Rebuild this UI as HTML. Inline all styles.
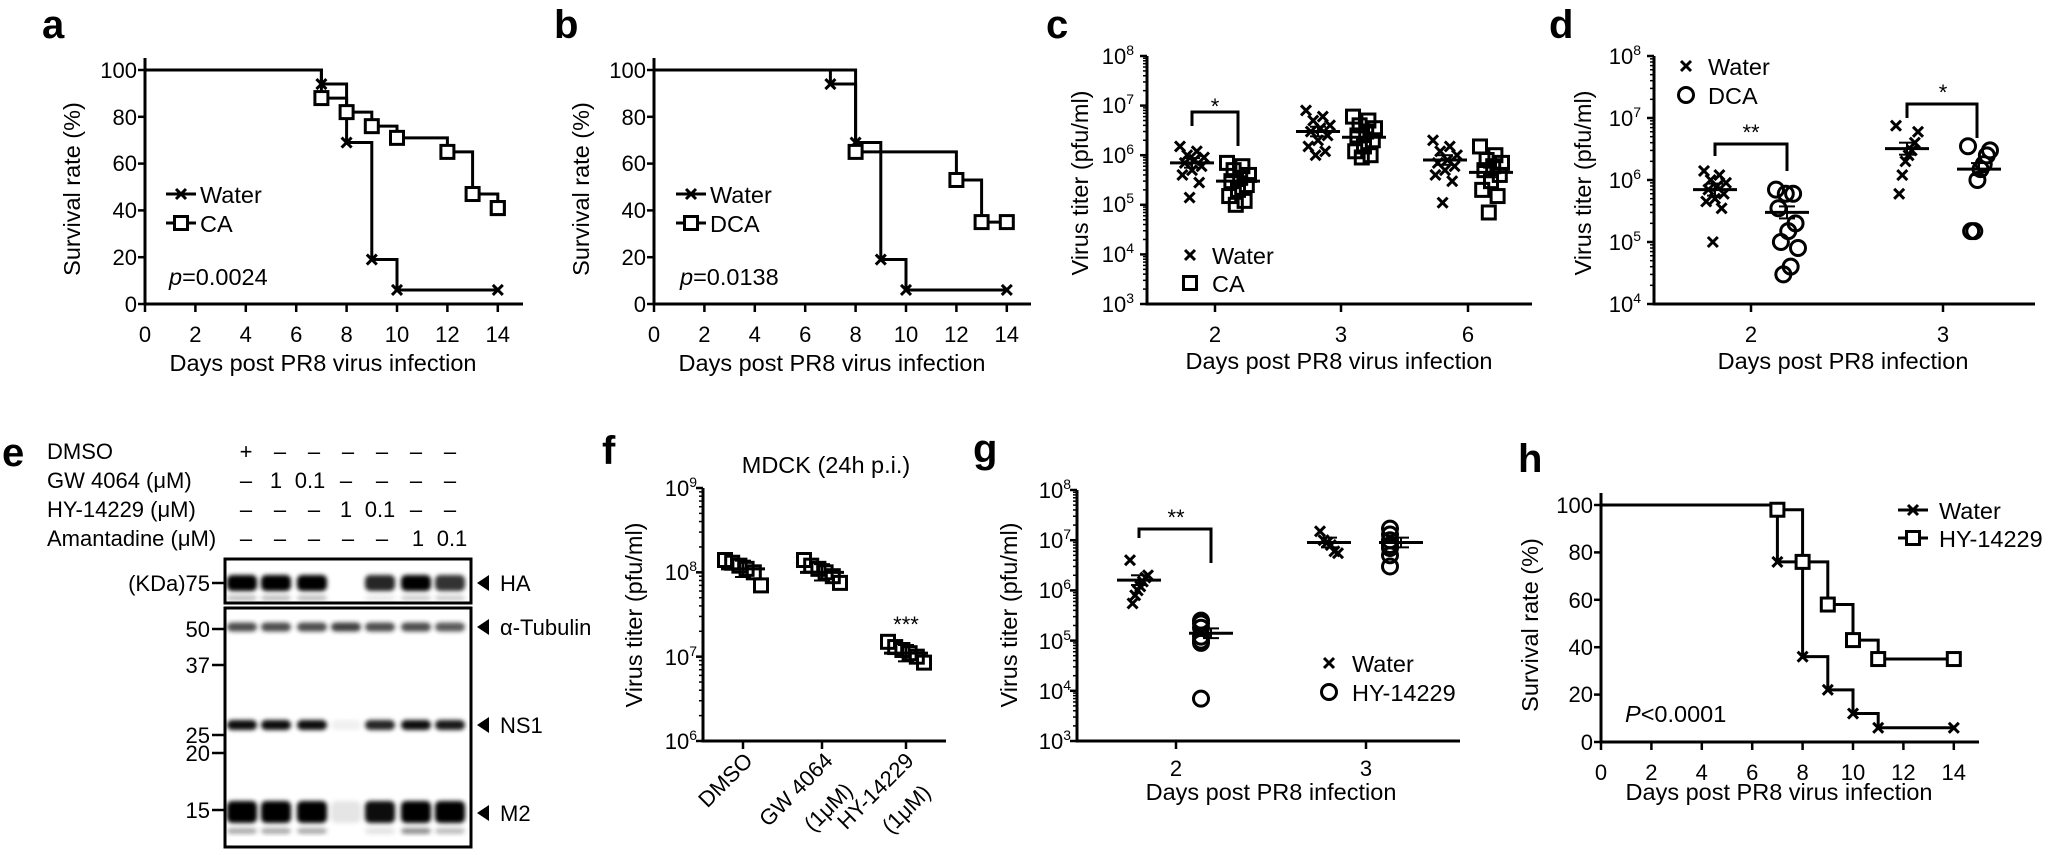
<!DOCTYPE html>
<html><head><meta charset="utf-8"><style>
html,body{margin:0;padding:0;background:#fff}
svg{display:block}
text{font-family:"Liberation Sans",Arial,sans-serif;fill:#000}
.b{font-weight:bold;font-size:40px}
.t{font-size:22px}
.l{font-size:23.5px}
.s{font-size:14px}
</style></head><body>
<svg id="s" width="2050" height="853" viewBox="0 0 2050 853" xmlns="http://www.w3.org/2000/svg">
<defs><filter id="bl" x="-20%" y="-50%" width="140%" height="200%"><feGaussianBlur stdDeviation="2"/></filter></defs>
<g id="shapes" stroke="#000" stroke-width="3" fill="none"></g>
<text class="b" x="42" y="38">a</text>
<text class="b" x="554" y="38">b</text>
<text class="b" x="1046" y="38">c</text>
<text class="b" x="1549" y="38">d</text>
<text class="b" x="2" y="466">e</text>
<text class="b" x="602" y="464">f</text>
<text class="b" x="973" y="462">g</text>
<text class="b" x="1518" y="472">h</text>

<g class="t" text-anchor="end">
<text x="137" y="78">100</text><text x="137" y="125">80</text><text x="137" y="171">60</text><text x="137" y="218">40</text><text x="137" y="265">20</text><text x="137" y="312">0</text>
<text x="646" y="78">100</text><text x="646" y="125">80</text><text x="646" y="171">60</text><text x="646" y="218">40</text><text x="646" y="265">20</text><text x="646" y="312">0</text>
<text x="1593" y="513">100</text><text x="1593" y="560">80</text><text x="1593" y="608">60</text><text x="1593" y="655">40</text><text x="1593" y="702">20</text><text x="1593" y="750">0</text>
</g>
<g class="t" text-anchor="middle" id="xt"></g>
<text class="l" x="323" y="371" text-anchor="middle">Days post PR8 virus infection</text>
<text class="l" x="832" y="371" text-anchor="middle">Days post PR8 virus infection</text>
<text class="l" x="1779" y="800" text-anchor="middle">Days post PR8 virus infection</text>
<text class="l" transform="translate(80,189) rotate(-90)" text-anchor="middle">Survival rate (%)</text>
<text class="l" transform="translate(589,189) rotate(-90)" text-anchor="middle">Survival rate (%)</text>
<text class="l" transform="translate(1538,625) rotate(-90)" text-anchor="middle">Survival rate (%)</text>
<text class="l" x="200" y="203">Water</text><text class="l" x="200" y="232">CA</text>
<text class="l" x="710" y="203">Water</text><text class="l" x="710" y="232">DCA</text>
<text class="l" x="1939" y="519">Water</text><text class="l" x="1939" y="547">HY-14229</text>
<text class="l" x="169" y="285"><tspan font-style="italic">p</tspan>=0.0024</text>
<text class="l" x="680" y="285"><tspan font-style="italic">p</tspan>=0.0138</text>
<text class="l" x="1625" y="722"><tspan font-style="italic">P</tspan>&lt;0.0001</text>

<g class="t" text-anchor="end">
<text x="1134" y="64">10<tspan class="s" dy="-9">8</tspan></text>
<text x="1134" y="113">10<tspan class="s" dy="-9">7</tspan></text>
<text x="1134" y="163">10<tspan class="s" dy="-9">6</tspan></text>
<text x="1134" y="212">10<tspan class="s" dy="-9">5</tspan></text>
<text x="1134" y="262">10<tspan class="s" dy="-9">4</tspan></text>
<text x="1134" y="312">10<tspan class="s" dy="-9">3</tspan></text>
<text x="1641" y="64">10<tspan class="s" dy="-9">8</tspan></text>
<text x="1641" y="126">10<tspan class="s" dy="-9">7</tspan></text>
<text x="1641" y="188">10<tspan class="s" dy="-9">6</tspan></text>
<text x="1641" y="250">10<tspan class="s" dy="-9">5</tspan></text>
<text x="1641" y="312">10<tspan class="s" dy="-9">4</tspan></text>
<text x="697" y="496">10<tspan class="s" dy="-9">9</tspan></text>
<text x="697" y="580">10<tspan class="s" dy="-9">8</tspan></text>
<text x="697" y="665">10<tspan class="s" dy="-9">7</tspan></text>
<text x="697" y="749">10<tspan class="s" dy="-9">6</tspan></text>
<text x="1071" y="498">10<tspan class="s" dy="-9">8</tspan></text>
<text x="1071" y="548">10<tspan class="s" dy="-9">7</tspan></text>
<text x="1071" y="598">10<tspan class="s" dy="-9">6</tspan></text>
<text x="1071" y="649">10<tspan class="s" dy="-9">5</tspan></text>
<text x="1071" y="699">10<tspan class="s" dy="-9">4</tspan></text>
<text x="1071" y="749">10<tspan class="s" dy="-9">3</tspan></text>
</g>
<g class="t" text-anchor="middle">
<text x="1215" y="342">2</text><text x="1341" y="342">3</text><text x="1468" y="342">6</text>
<text x="1751" y="342">2</text><text x="1943" y="342">3</text>
<text x="1176" y="776">2</text><text x="1366" y="776">3</text>
</g>
<text class="l" x="1339" y="369" text-anchor="middle">Days post PR8 virus infection</text>
<text class="l" x="1843" y="369" text-anchor="middle">Days post PR8 infection</text>
<text class="l" x="1271" y="800" text-anchor="middle">Days post PR8 infection</text>
<text class="l" transform="translate(1088,183) rotate(-90)" text-anchor="middle">Virus titer (pfu/ml)</text>
<text class="l" transform="translate(1591,183) rotate(-90)" text-anchor="middle">Virus titer (pfu/ml)</text>
<text class="l" transform="translate(642,615) rotate(-90)" text-anchor="middle">Virus titer (pfu/ml)</text>
<text class="l" transform="translate(1017,615) rotate(-90)" text-anchor="middle">Virus titer (pfu/ml)</text>
<text class="l" x="1212" y="264">Water</text><text class="l" x="1212" y="292">CA</text>
<text class="l" x="1708" y="75">Water</text><text class="l" x="1708" y="104">DCA</text>
<text class="l" x="1352" y="672">Water</text><text class="l" x="1352" y="701">HY-14229</text>
<g class="t" text-anchor="middle">
<text x="1215" y="114">*</text><text x="1751" y="140">**</text><text x="1943" y="100">*</text>
<text x="1176" y="525">**</text><text x="906" y="632">***</text>
</g>
<text class="l" x="826" y="473" text-anchor="middle">MDCK (24h p.i.)</text>
<g class="t" text-anchor="end">
<text transform="translate(754,762) rotate(-45)">DMSO</text>
<text transform="translate(834,762) rotate(-45)">GW 4064</text>
<text transform="translate(854,792) rotate(-45)">(1μM)</text>
<text transform="translate(915,762) rotate(-45)">HY-14229</text>
<text transform="translate(932,794) rotate(-45)">(1μM)</text>
</g>

<g class="t">
<text x="47" y="459">DMSO</text>
<text x="47" y="488">GW 4064 (μM)</text>
<text x="47" y="517">HY-14229 (μM)</text>
<text x="47" y="546">Amantadine (μM)</text>
</g>
<g class="t" text-anchor="middle">
<text x="246" y="459">+</text><text x="280" y="459">–</text><text x="314" y="459">–</text><text x="348" y="459">–</text><text x="382" y="459">–</text><text x="416" y="459">–</text><text x="450" y="459">–</text>
<text x="246" y="488">–</text><text x="276" y="488">1</text><text x="310" y="488">0.1</text><text x="346" y="488">–</text><text x="382" y="488">–</text><text x="416" y="488">–</text><text x="450" y="488">–</text>
<text x="246" y="517">–</text><text x="280" y="517">–</text><text x="314" y="517">–</text><text x="346" y="517">1</text><text x="380" y="517">0.1</text><text x="416" y="517">–</text><text x="450" y="517">–</text>
<text x="246" y="546">–</text><text x="280" y="546">–</text><text x="314" y="546">–</text><text x="348" y="546">–</text><text x="382" y="546">–</text><text x="418" y="546">1</text><text x="452" y="546">0.1</text>
</g>
<g class="t" text-anchor="end">
<text x="210" y="591">(KDa)75</text>
<text x="210" y="637">50</text><text x="210" y="673">37</text><text x="210" y="743">25</text><text x="210" y="761">20</text><text x="210" y="818">15</text>
</g>
<g class="t">
<text x="500" y="591">HA</text><text x="500" y="635">α-Tubulin</text><text x="500" y="733">NS1</text><text x="500" y="821">M2</text>
</g>
</svg>
<script>
(function(){
var NS="http://www.w3.org/2000/svg",G=document.getElementById('shapes'),XT=document.getElementById('xt');
function el(t,a,p){var e=document.createElementNS(NS,t);for(var k in a)e.setAttribute(k,a[k]);(p||G).appendChild(e);return e;}
function line(x1,y1,x2,y2,w){el('line',{x1:x1,y1:y1,x2:x2,y2:y2,'stroke-width':w||3});}
function cross(x,y,s){s=s||5;line(x-s,y-s,x+s,y+s,3);line(x-s,y+s,x+s,y-s,3);}
function sq(x,y,s){s=s||6.5;el('rect',{x:x-s,y:y-s,width:2*s,height:2*s,fill:'#fff','stroke-width':3});}
function sqo(x,y,s){s=s||6.5;el('rect',{x:x-s,y:y-s,width:2*s,height:2*s,fill:'none','stroke-width':3});}
function circ(x,y){el('ellipse',{cx:x,cy:y,rx:7.5,ry:7.5,fill:'none','stroke-width':3});}
function surv(X0,Y0,Y100,end,series){
 var dx=25.2,sy=(Y0-Y100)/100;
 line(X0,Y100-12,X0,Y0+1.5);line(X0-1.5,Y0,end,Y0);
 for(var v=0;v<=100;v+=20)line(X0-7,Y0-v*sy,X0,Y0-v*sy,2.5);
 for(var d=0;d<=14;d+=2){line(X0+d*dx,Y0,X0+d*dx,Y0+8,2.5);var t=el('text',{x:X0+d*dx,y:Y0+38},XT);t.textContent=d;}
 series.forEach(function(s){
  var pts=s.p,dd='M'+X0+' '+Y100;
  pts.forEach(function(q){dd+=' H'+(X0+q[0]*dx)+' V'+(Y0-q[1]*sy);});
  dd+=' H'+(X0+14*dx);
  el('path',{d:dd,'stroke-width':3});
  pts.forEach(function(q){var x=X0+q[0]*dx,y=Y0-q[1]*sy;s.m=='x'?cross(x,y):sq(x,y);});
  var l=pts[pts.length-1];var x=X0+14*dx,y=Y0-l[1]*sy;s.m=='x'?cross(x,y):sq(x,y);
 });
}
surv(145,304,70,523,[{m:'x',p:[[7,94],[8,69],[9,19],[10,6]]},{m:'s',p:[[7,88],[8,82],[9,76],[10,71],[12,65],[13,47],[14,41]]}]);
surv(654,304,70,1031,[{m:'x',p:[[7,94],[8,69],[9,19],[10,6]]},{m:'s',p:[[8,65],[12,53],[13,35]]}]);
surv(1601,742,505,1979,[{m:'x',p:[[7,76],[8,36],[9,22],[10,12],[11,6]]},{m:'s',p:[[7,98],[8,76],[9,58],[10,43],[11,35]]}]);
function leg(x,y,m){line(x,y,x+30,y);m=='x'?cross(x+15,y):sq(x+15,y);}
leg(166,194,'x');leg(166,223,'s');leg(676,194,'x');leg(676,223,'s');leg(1898,510,'x');leg(1898,538,'s');
function logp(X0,Yb,Yt,d0,d1,end,cats){
 var per=(Yb-Yt)/(d1-d0);
 line(X0,Yt,X0,Yb+1.5);line(X0-1.5,Yb,end,Yb);
 for(var d=d0;d<=d1;d++){line(X0-7,Yb-(d-d0)*per,X0,Yb-(d-d0)*per,2.5);
  if(d<d1)for(var k=2;k<10;k++){var y=Yb-(d-d0+Math.log10(k))*per;line(X0-4,y,X0,y,1.5);}}
 cats.forEach(function(c){line(c,Yb,c,Yb+8,2.5);});
 return function(v){return Yb-(Math.log10(v)-d0)*per;};
}
function grp(Y,cx,vals,mean,m,spread){
 var n=vals.length;
 vals.forEach(function(v,i){var j=((i*7)%n)/(n-1||1)-0.5;var x=cx+j*spread*2;
  if(m=='x')cross(x,Y(v),5);else if(m=='s')sqo(x,Y(v));else circ(x,Y(v));});
 var my=Y(mean);line(cx-22,my,cx+22,my,3);
 var se=Math.abs(Y(mean*1.25)-my);line(cx,my-se,cx,my+se,2);line(cx-8,my-se,cx+8,my-se,2);line(cx-8,my+se,cx+8,my+se,2);
}
var Yc=logp(1147,304,56,3,8,1532,[1215,1341,1468]);
grp(Yc,1192,[1.5e6,1.2e6,1e6,9e5,8e5,7e5,6e5,5e5,4e5,2.8e5,1.4e5],7e5,'x',12);
grp(Yc,1238,[7e5,6e5,5e5,4e5,3.5e5,3e5,2.5e5,2e5,1.5e5,1.2e5,1e5],3e5,'s',11);
grp(Yc,1318,[8e6,6e6,5e6,4e6,3.5e6,3e6,2.5e6,2e6,1.5e6,1.2e6,1e6],3e6,'x',12);
grp(Yc,1364,[6e6,5e6,4e6,3.5e6,3e6,2.5e6,2e6,1.5e6,1.2e6,1e6,9e5],2.3e6,'s',11);
grp(Yc,1445,[2e6,1.5e6,1.2e6,1e6,8e5,7e5,6e5,5e5,4e5,3e5,1.1e5],8e5,'x',12);
grp(Yc,1491,[1.5e6,1e6,8e5,7e5,6e5,5e5,4e5,3e5,2e5,1.5e5,7e4],4.5e5,'s',11);
el('path',{d:'M1192 126 V112 H1238 V146','stroke-width':3});
cross(1190,255,5);sqo(1190,283);
var Yd=logp(1654,304,56,4,8,2035,[1751,1943]);
grp(Yd,1715,[1.4e6,1.2e6,1e6,9e5,8e5,7e5,6e5,5e5,4.5e5,3.5e5,1e5],7e5,'x',11);
grp(Yd,1787,[7e5,6e5,6e5,3.5e5,2e5,1.5e5,1e5,8e4,4e4,3e4],3e5,'o',11);
grp(Yd,1907,[7.5e6,6e6,4e6,3e6,2.5e6,2e6,1.2e6,6e5],3.2e6,'x',11);
grp(Yd,1979,[3.5e6,3e6,2.5e6,1.8e6,1.5e6,1e6,1.5e5,1.5e5],1.5e6,'o',11);
el('path',{d:'M1715 156 V144 H1787 V171','stroke-width':3});
el('path',{d:'M1907 118 V104 H1977 V138','stroke-width':3});
cross(1686,66,5);circ(1686,95);
var Yf=logp(703,741,488,6,9,946,[743,822,906]);
grp(Yf,743,[1.4e8,1.3e8,1.2e8,1.1e8,1e8,7e7],1.1e8,'s',18);
grp(Yf,822,[1.4e8,1.2e8,1.1e8,1e8,9e7,7.5e7],1e8,'s',18);
grp(Yf,906,[1.5e7,1.3e7,1.2e7,1.1e7,1e7,8.5e6],1.1e7,'s',18);
var Yg=logp(1077,741,490,3,8,1460,[1176,1366]);
grp(Yg,1139,[4e6,2e6,1.8e6,1.5e6,1.2e6,1e6,8e5,5.5e5],1.6e6,'x',9);
grp(Yg,1211,[2.5e5,2.2e5,1.8e5,1.2e5,1e5,9e4,7e3],1.4e5,'o',10);
grp(Yg,1329,[1.5e7,1e7,9e6,8e6,6e6,5.5e6],9e6,'x',9);
grp(Yg,1401,[1.7e7,1.3e7,1e7,8e6,7e6,5e6,3e6],9e6,'o',11);
el('path',{d:'M1139 538 V529 H1211 V563','stroke-width':3});
cross(1329,663,5);circ(1329,692);
el('rect',{x:225,y:559,width:246,height:44,'stroke-width':3});
el('rect',{x:225,y:608,width:246,height:239,'stroke-width':3});
[[212,583],[212,629],[212,665],[212,735],[212,753],[212,810]].forEach(function(q){line(q[0],q[1],q[0]+12,q[1],2.5);});
var lanes=[242,276,312,346,380,416,450];
function band(y,h,ops,col){lanes.forEach(function(x,i){if(ops[i]>0)el('rect',{x:x-15,y:y-h/2,width:30,height:h,rx:5,fill:col,'fill-opacity':ops[i],stroke:'none',filter:'url(#bl)'});});}
band(583,16,[1,1,1,0,0.85,1,0.8],'#000');
band(598,5,[0.4,0.4,0.4,0,0.15,0.3,0.3],'#555');
band(627,9,[0.8,0.8,0.8,0.85,0.8,0.8,0.75],'#222');
band(725,10,[0.95,0.95,0.95,0.06,0.85,0.95,0.9],'#000');
band(812,22,[1,1,1,0.1,0.95,1,1],'#000');
band(831,6,[0.45,0.45,0.45,0,0.15,0.6,0.35],'#444');
[583,627,725,813].forEach(function(y){el('path',{d:'M477 '+y+' l12 -8 v16 z',fill:'#000',stroke:'none'});});
})();
</script>
</body></html>
